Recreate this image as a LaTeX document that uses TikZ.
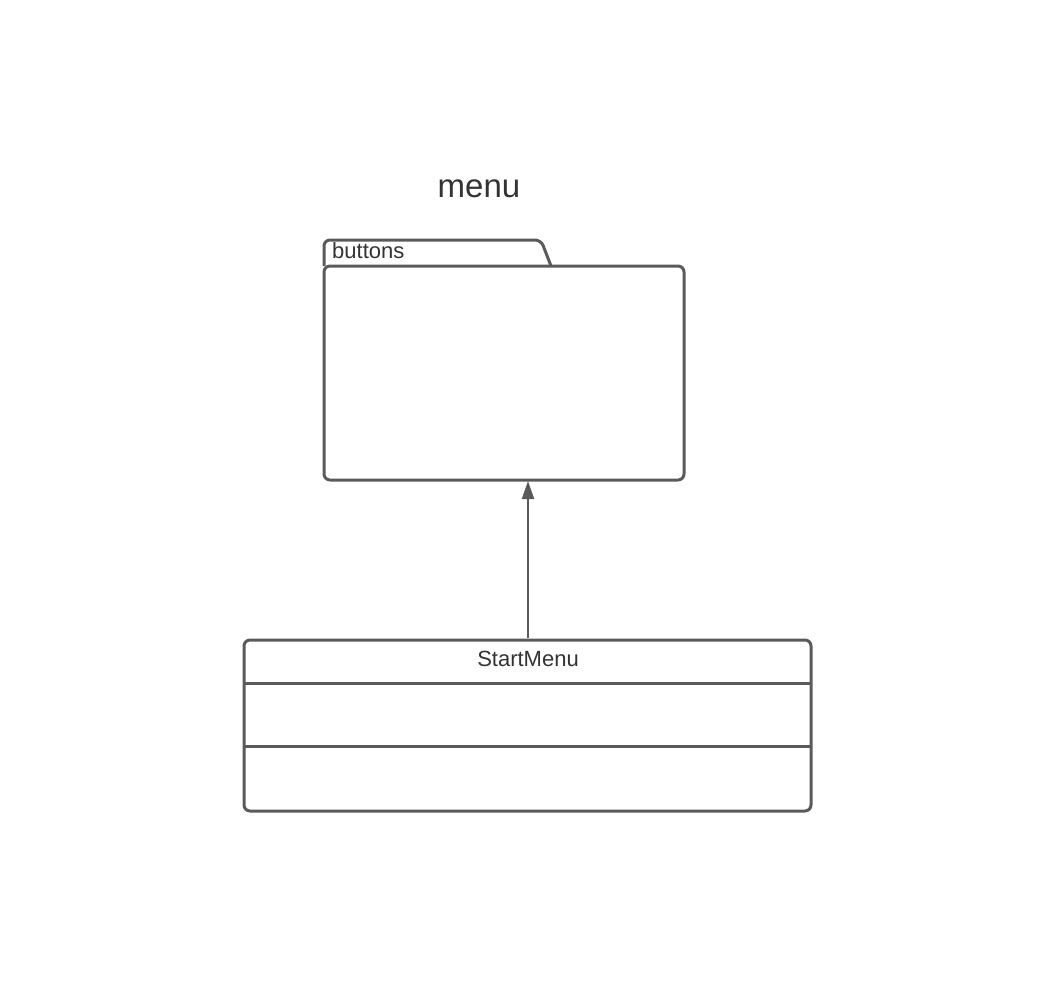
\documentclass[tikz,border=0pt]{standalone}
\usepackage{fontspec}
\setmainfont{Liberation Sans}
\usetikzlibrary{arrows.meta}
\definecolor{linec}{HTML}{5A5A5A}
\definecolor{textc}{HTML}{333333}
\tikzset{
  umlbox/.style={draw=linec, line width=3pt, rounded corners=6pt},
  divider/.style={draw=linec, line width=3pt},
  lbl/.style={text=textc, font=\fontsize{22}{26}\selectfont, inner sep=0pt},
  conn/.style={draw=linec, line width=2pt, -{Triangle[length=18pt,width=12pt]}},
}
\begin{document}
\begin{tikzpicture}[x=1pt,y=-1pt]
\useasboundingbox (0,0) rectangle (1048,980);
% title
\node[text=textc, font=\fontsize{33}{38}\selectfont, inner sep=0pt] (title) at (479,189) {menu};
% folder
\draw[umlbox] (324,266) -- (324,240) -- (541,240) -- (551,266);
\draw[umlbox] (324,266) rectangle (684,480);
\node[lbl, anchor=west] (buttons) at (332,251) {buttons};
\coordinate (pkgbottom) at (528,481);
% class
\draw[umlbox] (244,640) rectangle (811,811);
\draw[divider] (244,683) -- (811,683);
\draw[divider] (244,746) -- (811,746);
\node[lbl] (startmenu) at (528,659) {StartMenu};
\coordinate (classtop) at (528,638);
\draw[conn] (classtop) -- (pkgbottom);
\end{tikzpicture}
\end{document}
